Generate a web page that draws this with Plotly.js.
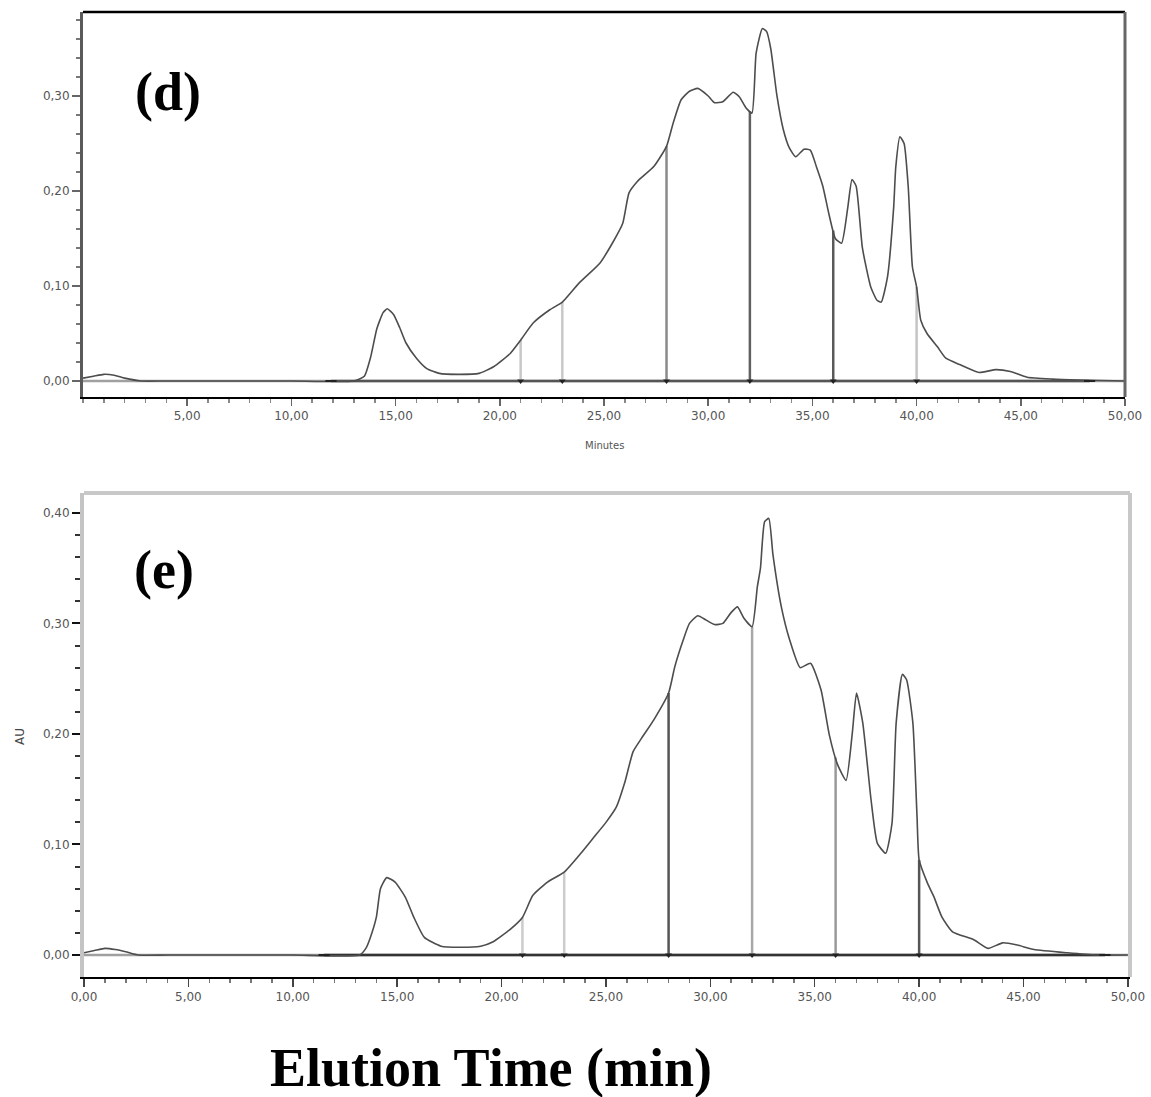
<!DOCTYPE html>
<html>
<head>
<meta charset="utf-8">
<script src="https://cdn.plot.ly/plotly-3.0.1.min.js"></script>
<style>html,body{margin:0;padding:0;background:#fff;}#chart{width:1151px;height:1097px;}</style>
</head>
<body>
<div id="chart"></div>
<script>
// ---- Panel (d) chromatogram ----
const timeD = [0.0,0.5,1.0,1.5,2.0,2.8,4.0,7.0,10.0,13.0,13.5,13.8,14.1,14.4,14.6,14.9,15.2,15.5,16.0,16.5,17.1,18.0,19.0,19.7,20.5,21.0,21.6,22.4,23.0,23.8,24.8,25.4,25.9,26.2,26.6,27.4,28.0,28.3,28.7,29.1,29.5,30.0,30.3,30.7,31.2,31.5,31.8,32.1,32.3,32.6,32.8,33.0,33.3,33.6,33.9,34.2,34.6,34.9,35.2,35.5,35.8,36.1,36.4,36.7,36.9,37.1,37.4,37.8,38.1,38.3,38.6,38.9,39.0,39.2,39.4,39.6,39.8,40.0,40.2,40.5,41.0,41.4,42.1,43.0,43.8,44.5,45.3,46.5,47.8,50.0];
const auD   = [0.003,0.005,0.007,0.006,0.003,0.000,0.000,0.000,0.000,0.000,0.005,0.025,0.055,0.072,0.076,0.070,0.056,0.040,0.024,0.013,0.008,0.007,0.008,0.015,0.029,0.043,0.061,0.075,0.083,0.103,0.124,0.145,0.166,0.198,0.210,0.226,0.247,0.270,0.296,0.305,0.308,0.300,0.293,0.294,0.304,0.299,0.288,0.282,0.345,0.371,0.368,0.350,0.300,0.265,0.245,0.236,0.244,0.243,0.225,0.205,0.175,0.150,0.145,0.183,0.212,0.205,0.140,0.099,0.085,0.083,0.109,0.183,0.225,0.257,0.250,0.204,0.120,0.099,0.064,0.050,0.036,0.024,0.017,0.009,0.012,0.010,0.004,0.002,0.001,0.000];

// ---- Panel (e) chromatogram ----
const timeE = [0.0,0.5,1.0,1.5,2.0,2.6,4.0,7.0,10.0,13.2,13.5,13.7,14.0,14.2,14.5,14.9,15.4,15.8,16.3,17.1,18.0,19.0,19.6,20.4,21.0,21.5,22.2,23.0,23.8,24.4,25.0,25.5,25.9,26.3,26.7,27.3,28.0,28.3,28.7,29.0,29.4,29.8,30.2,30.6,31.0,31.3,31.6,32.0,32.25,32.4,32.6,32.8,33.0,33.4,33.8,34.3,34.8,35.3,35.7,36.1,36.5,36.8,37.0,37.3,37.7,38.0,38.4,38.7,38.9,39.2,39.4,39.7,39.9,40.0,40.4,40.7,41.1,41.6,42.6,43.3,44.0,44.7,45.5,47.1,48.5,50.0];
const auE   = [0.002,0.004,0.006,0.005,0.003,0.000,0.000,0.000,0.000,0.000,0.006,0.015,0.034,0.060,0.070,0.066,0.052,0.034,0.016,0.008,0.007,0.008,0.012,0.023,0.034,0.054,0.066,0.075,0.092,0.106,0.120,0.134,0.156,0.184,0.196,0.213,0.237,0.261,0.285,0.300,0.307,0.303,0.299,0.300,0.310,0.315,0.305,0.297,0.333,0.350,0.392,0.395,0.362,0.315,0.285,0.260,0.264,0.240,0.199,0.172,0.158,0.201,0.237,0.210,0.140,0.101,0.092,0.119,0.210,0.254,0.249,0.210,0.125,0.086,0.065,0.053,0.034,0.021,0.014,0.006,0.011,0.009,0.005,0.002,0.000,0.000];

// integration drop lines and baseline limits (min)
const dropTimes = [21, 23, 28, 32, 36, 40];
const baseD = [11.9, 48.3];
const baseE = [11.5, 48.9];

// tick labels
const xTicksD = [5,10,15,20,25,30,35,40,45,50];
const xTicksE = [0,5,10,15,20,25,30,35,40,45,50];
const yTicksD = [0,0.1,0.2,0.3];
const yTicksE = [0,0.1,0.2,0.3,0.4];

// styles
const dropColD = ['#c8c8c8','#c8c8c8','#8a8a8a','#606060','#5a5a5a','#c4c4c4'];
const dropColE = ['#cccccc','#cccccc','#555555','#a8a8a8','#9a9a9a','#555555'];

function interp(xs, ys, t){
  for (let i=0;i<xs.length-1;i++){
    if (t>=xs[i] && t<=xs[i+1]){
      const f=(t-xs[i])/(xs[i+1]-xs[i]);
      return ys[i]+f*(ys[i+1]-ys[i]);
    }
  }
  return 0;
}

const traces = [];
function panel(xs, ys, xa, ya, cols, base, baseDark){
  traces.push({x:[0,50], y:[0,0], xaxis:xa, yaxis:ya, mode:'lines', line:{color:'#a0a0a0', width:2.5}, hoverinfo:'skip'});
  traces.push({x:base, y:[0,0], xaxis:xa, yaxis:ya, mode:'lines', line:{color:baseDark, width:2.5}, hoverinfo:'skip'});
  dropTimes.forEach((t,i)=>{
    traces.push({x:[t,t], y:[0, interp(xs,ys,t)], xaxis:xa, yaxis:ya, mode:'lines', line:{color:cols[i], width:2.5}, hoverinfo:'skip'});
  });
  traces.push({x:xs, y:ys, xaxis:xa, yaxis:ya, mode:'lines', line:{color:'#4d4d4d', width:1.6, shape:'spline', smoothing:0.5}, hoverinfo:'skip'});
  traces.push({x:dropTimes, y:dropTimes.map(()=>0), xaxis:xa, yaxis:ya, mode:'markers', marker:{symbol:'triangle-down', size:6, color:'#222'}, hoverinfo:'skip'});
  traces.push({x:base, y:[0,0], xaxis:xa, yaxis:ya, mode:'markers', marker:{symbol:'line-ew', size:8, line:{color:'#222', width:2}}, hoverinfo:'skip'});
}
panel(timeD, auD, 'x', 'y', dropColD, baseD, '#555555');
panel(timeE, auE, 'x2', 'y2', dropColE, baseE, '#333333');

const W=1151, H=1097;
const px = v => v/W, py = v => 1 - v/H;
const tickFont = {family:'DejaVu Sans, sans-serif', size:12, color:'#555'};

const layout = {
  width:W, height:H,
  margin:{l:0,r:0,t:0,b:0},
  paper_bgcolor:'#fff', plot_bgcolor:'#fff',
  showlegend:false,
  separators:', ',
  xaxis:{domain:[px(83),px(1125)], range:[0,50], anchor:'y',
    tickvals:xTicksD, tickformat:'.2f', tickfont:tickFont,
    showline:true, linecolor:'#000', linewidth:2, ticks:'outside', ticklen:7, tickcolor:'#666', tickwidth:1.5,
    minor:{ticks:'outside', ticklen:4, dtick:1, tickcolor:'#888', showgrid:false},
    showgrid:false, zeroline:false},
  yaxis:{domain:[py(397),py(12)], range:[-0.01684,0.3884], anchor:'x',
    tickvals:yTicksD, tickformat:'.2f', tickfont:tickFont,
    showline:true, linecolor:'#5a5a5a', linewidth:3, ticks:'outside', ticklen:8, tickcolor:'#666', tickwidth:2,
    minor:{ticks:'outside', ticklen:4, dtick:0.02, tickcolor:'#777', showgrid:false},
    showgrid:false, zeroline:false},
  xaxis2:{domain:[px(84),px(1130)], range:[0,50.1], anchor:'y2',
    tickvals:xTicksE, tickformat:'.2f', tickfont:tickFont,
    showline:true, linecolor:'#000', linewidth:2, ticks:'outside', ticklen:8, tickcolor:'#444', tickwidth:1.5,
    minor:{ticks:'outside', ticklen:4, dtick:1, tickcolor:'#777', showgrid:false},
    showgrid:false, zeroline:false},
  yaxis2:{domain:[py(977),py(493)], range:[-0.0199,0.418], anchor:'x2',
    tickvals:yTicksE, tickformat:'.2f', tickfont:tickFont,
    showline:true, linecolor:'#c4c4c4', linewidth:4, ticks:'outside', ticklen:8, tickcolor:'#111', tickwidth:2,
    minor:{ticks:'outside', ticklen:5, dtick:0.02, tickcolor:'#333', showgrid:false},
    showgrid:false, zeroline:false},
  shapes:[
    {type:'line', xref:'x domain', yref:'y domain', x0:0, x1:1, y0:1, y1:1, line:{color:'#000', width:2.5}},
    {type:'line', xref:'x domain', yref:'y domain', x0:1, x1:1, y0:0, y1:1, line:{color:'#666', width:3}},
    {type:'line', xref:'x2 domain', yref:'y2 domain', x0:0, x1:1, y0:1, y1:1, line:{color:'#c8c8c8', width:4}},
    {type:'line', xref:'x2 domain', yref:'y2 domain', x0:1, x1:1, y0:0, y1:1, line:{color:'#c8c8c8', width:4}}
  ],
  annotations:[
    {text:'<b>(d)</b>', xref:'paper', yref:'paper', x:px(168), y:py(92), xanchor:'center', yanchor:'middle', showarrow:false,
     font:{family:'Liberation Serif, serif', size:54, color:'#000'}},
    {text:'<b>(e)</b>', xref:'paper', yref:'paper', x:px(164), y:py(570), xanchor:'center', yanchor:'middle', showarrow:false,
     font:{family:'Liberation Serif, serif', size:54, color:'#000'}},
    {text:'<b>Elution Time (min)</b>', xref:'paper', yref:'paper', x:px(491), y:py(1068), xanchor:'center', yanchor:'middle', showarrow:false,
     font:{family:'Liberation Serif, serif', size:54, color:'#000'}},
    {text:'Minutes', xref:'paper', yref:'paper', x:px(604), y:py(446), xanchor:'center', yanchor:'middle', showarrow:false,
     font:{family:'DejaVu Sans, sans-serif', size:10, color:'#555'}},
    {text:'AU', xref:'paper', yref:'paper', x:px(20), y:py(737), xanchor:'center', yanchor:'middle', showarrow:false, textangle:-90,
     font:{family:'DejaVu Sans, sans-serif', size:12, color:'#444'}}
  ]
};

Plotly.newPlot('chart', traces, layout, {staticPlot:true, displayModeBar:false});
</script>
</body>
</html>
